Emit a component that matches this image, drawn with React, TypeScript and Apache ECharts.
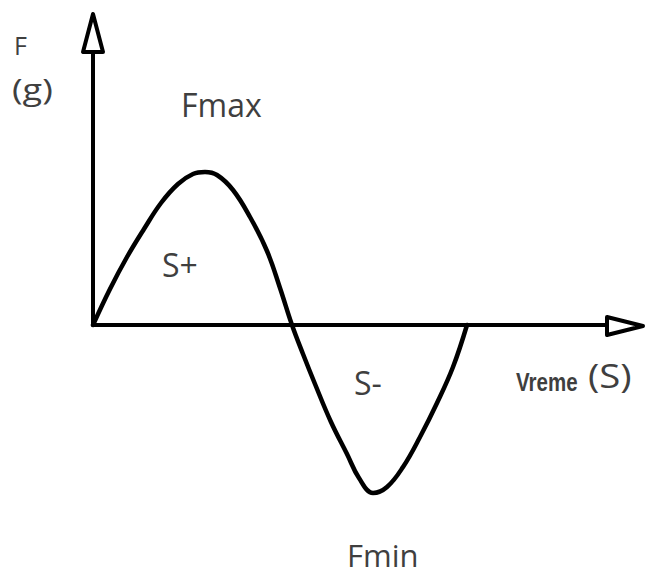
import React, { useEffect, useRef } from "react";
import * as echarts from "echarts";

// Curve (time units, force units)
const timeValues = [0, 17, 34, 51, 68, 85, 100, 112, 124, 140, 157, 174, 187, 199, 210, 222, 238, 254, 266, 280, 294, 310, 327, 344, 360, 374];
const forceValues = [0, 36, 68, 96, 122, 141, 151, 153, 150, 135, 108, 74, 37, 0, -29, -59, -97, -129, -153, -168, -162, -142, -112, -78, -42, 0];

const xMax = 512;
const yMax = 273;

const labelColor = "#3f3f3f";

export default function App() {
  const ref = useRef<HTMLDivElement>(null);
  useEffect(() => {
    document.body.style.margin = "0";
    if (!ref.current) return;
    const chart = echarts.init(ref.current, null, { renderer: "svg" });
    const data = timeValues.map((t, i) => [t, forceValues[i]]);
    const font = "'Open Sans', sans-serif";
    const txt = (text: string, x: number, y: number, f: string, extra: any = {}) => ({
      type: "text",
      x,
      y,
      ...extra,
      style: { text, font: f, fill: labelColor },
    });
    chart.setOption({
      animation: false,
      backgroundColor: "#ffffff",
      grid: { left: 93, right: 42, top: 52, bottom: 251, containLabel: false },
      xAxis: {
        type: "value",
        min: 0,
        max: xMax,
        axisLine: { show: true, onZero: false, lineStyle: { color: "#000", width: 4 } },
        axisTick: { show: false },
        axisLabel: { show: false },
        splitLine: { show: false },
      },
      yAxis: {
        type: "value",
        min: 0,
        max: yMax,
        axisLine: { show: true, onZero: false, lineStyle: { color: "#000", width: 4 } },
        axisTick: { show: false },
        axisLabel: { show: false },
        splitLine: { show: false },
      },
      series: [
        {
          type: "line",
          data,
          smooth: 0.4,
          clip: false,
          showSymbol: false,
          lineStyle: { color: "#000", width: 4.5, cap: "round", join: "round" },
        },
      ],
      graphic: [
        {
          type: "polygon",
          shape: { points: [[93, 14], [83, 52], [103, 52]] },
          style: { fill: "#fff", stroke: "#000", lineWidth: 4, lineJoin: "round" },
          z: 10,
        },
        {
          type: "polygon",
          shape: { points: [[607, 317], [643, 326], [607, 335]] },
          style: { fill: "#fff", stroke: "#000", lineWidth: 4, lineJoin: "round" },
          z: 10,
        },
        txt("F", 14, 32, `25px ${font}`),
        txt("(g)", 12, 74, `30px ${font}`, { scaleX: 1.2 }),
        txt("Fmax", 181, 88, `32px ${font}`),
        txt("S+", 162, 248, `32px ${font}`),
        txt("S-", 354, 366, `32px ${font}`),
        txt("Fmin", 347, 539, `31px ${font}`),
        txt("Vreme", 516, 370, `bold 25px 'Liberation Sans', sans-serif`, { scaleX: 0.82 }),
        txt("(S)", 588, 359, `32px ${font}`, { scaleX: 1.2 }),
      ],
    });
    return () => chart.dispose();
  }, []);
  return <div ref={ref} style={{ width: 647, height: 576 }} />;
}
